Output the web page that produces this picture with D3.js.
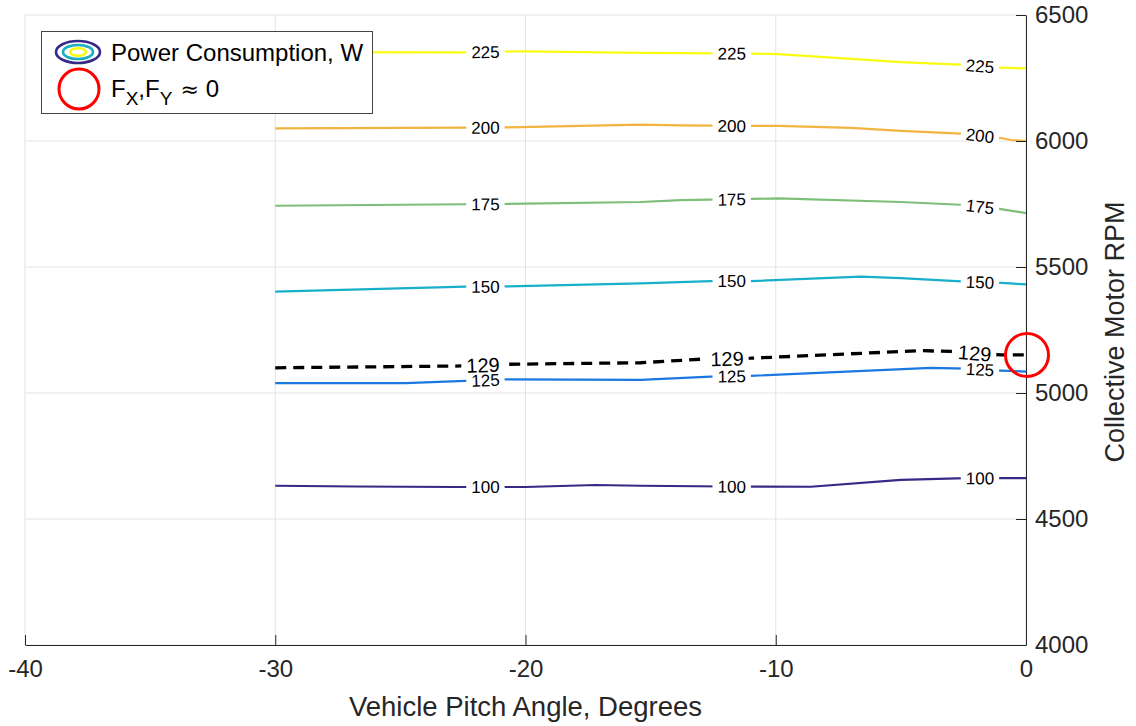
<!DOCTYPE html>
<html>
<head>
<meta charset="utf-8">
<script src="https://cdn.jsdelivr.net/npm/d3@7"></script>
<style>
  html, body { margin: 0; padding: 0; background: #fff; }
  svg { display: block; font-family: "Liberation Sans", Arial, Helvetica, sans-serif; }
</style>
</head>
<body>
<svg id="chart" width="1136" height="726"></svg>
<script>
// Contour levels of power consumption (W)
const levels = [100, 125, 150, 175, 200, 225];

// Contour traces: vehicle pitch angle (deg) vs collective motor RPM
const pitch100 = [-30, -26.8, -22.8, -20, -17.2, -15.4, -12, -8.6, -5, -2.4, -1, 0];
const rpm100   = [4632, 4629, 4627, 4627, 4635, 4632, 4629, 4628, 4655, 4662, 4662, 4662];

const pitch125 = [-30, -24.8, -22.4, -20.8, -15.4, -12.6, -11, -3.8, -2.4, -1, 0];
const rpm125   = [5039, 5039, 5048, 5054, 5052, 5065, 5068, 5100, 5097, 5089, 5085];

const pitch150 = [-30, -22.4, -20.8, -15.4, -12.6, -11, -6.6, -5, -2.4, -1, 0];
const rpm150   = [5402, 5422, 5423, 5435, 5444, 5444, 5462, 5456, 5442, 5437, 5431];

const pitch175 = [-30, -22.4, -20.8, -15.4, -13.8, -11, -9.9, -5, -2.4, -1, 0];
const rpm175   = [5743, 5749, 5750, 5758, 5765, 5770, 5772, 5758, 5746, 5730, 5714];

const pitch200 = [-30, -22.4, -20.8, -15.4, -13.8, -11, -9.9, -7, -5, -2.4, -1, -0.6, 0];
const rpm200   = [6050, 6053, 6054, 6065, 6062, 6060, 6060, 6052, 6040, 6028, 6012, 6004, 6000];

const pitch225 = [-30, -22.4, -20.8, -20, -15.4, -13.8, -11, -9.9, -5, -2.4, -1, 0];
const rpm225   = [6353, 6352, 6355, 6356, 6350, 6349, 6347, 6345, 6313, 6302, 6291, 6288];

// Contour where the measured power is 129 W
const level129 = 129;
const pitch129 = [-30, -22.8, -20.8, -15.4, -13, -11, -4.2, -3, -1, 0];
const rpm129   = [5100, 5107, 5114, 5120, 5134, 5138, 5168, 5165, 5151, 5151];

// Point where horizontal forces vanish
const zeroForcePitch = 0;
const zeroForceRpm = 5151;

// Inline label positions along each contour (pitch, deg)
const labelPitch = [-21.6, -11.76, -1.84];
const labelPitch129 = [-21.7, -11.95, -2.05];

// Axis ticks
const xTicks = [-40, -30, -20, -10, 0];
const yTicks = [4000, 4500, 5000, 5500, 6000, 6500];

const levelColors = {
  100: "#352a87", 125: "#1a78df", 150: "#17afc9",
  175: "#7dbf78", 200: "#f2b440", 225: "#f9fb0e"
};

const contours = [
  { level: 100, pitch: pitch100, rpm: rpm100 },
  { level: 125, pitch: pitch125, rpm: rpm125 },
  { level: 150, pitch: pitch150, rpm: rpm150 },
  { level: 175, pitch: pitch175, rpm: rpm175 },
  { level: 200, pitch: pitch200, rpm: rpm200 },
  { level: 225, pitch: pitch225, rpm: rpm225 }
];

const svg = d3.select("#chart");
const plotLeft = 25, plotRight = 1026, plotTop = 15, plotBottom = 645;

const x = d3.scaleLinear().domain([-40, 0]).range([plotLeft, plotRight]);
const y = d3.scaleLinear().domain([4000, 6500]).range([plotBottom, plotTop]);

// Grid
const grid = svg.append("g");
grid.selectAll("line.gx").data(xTicks).join("line")
  .attr("x1", d => x(d)).attr("x2", d => x(d))
  .attr("y1", plotTop).attr("y2", plotBottom)
  .attr("stroke", "#e3e3e3").attr("stroke-width", 1);
grid.selectAll("line.gy").data(yTicks).join("line")
  .attr("x1", plotLeft).attr("x2", plotRight)
  .attr("y1", d => y(d)).attr("y2", d => y(d))
  .attr("stroke", "#e3e3e3").attr("stroke-width", 1);

const line = d3.line().x(d => x(d[0])).y(d => y(d[1]));

function pts(pitch, rpm) { return pitch.map((p, i) => [p, rpm[i]]); }

function interp(pitch, rpm, p) {
  const i = Math.max(1, Math.min(pitch.length - 1, d3.bisectLeft(pitch, p)));
  const t = (p - pitch[i - 1]) / (pitch[i] - pitch[i - 1]);
  return rpm[i - 1] + t * (rpm[i] - rpm[i - 1]);
}

// Contour lines
const linesG = svg.append("g");
contours.forEach(c => {
  linesG.append("path")
    .attr("d", line(pts(c.pitch, c.rpm)))
    .attr("fill", "none")
    .attr("stroke", levelColors[c.level])
    .attr("stroke-width", 2.2)
    .attr("stroke-linejoin", "round");
});
linesG.append("path")
  .attr("d", line(pts(pitch129, rpm129)))
  .attr("fill", "none")
  .attr("stroke", "#000")
  .attr("stroke-width", 3.3)
  .attr("stroke-dasharray", "11,7");

// Inline labels
const labelItems = [];
contours.forEach(c => {
  labelPitch.forEach(p => labelItems.push({ pitch: p, c, text: String(c.level), size: 17 }));
});
labelPitch129.forEach(p => labelItems.push({
  pitch: p, c: { pitch: pitch129, rpm: rpm129 }, text: String(level129), size: 20
}));

const bgG = svg.append("g");
const txtG = svg.append("g");
labelItems.forEach(L => {
  const px = x(L.pitch);
  const py = y(interp(L.c.pitch, L.c.rpm, L.pitch));
  const x1 = x(L.pitch - 0.6), x2 = x(L.pitch + 0.6);
  const y1 = y(interp(L.c.pitch, L.c.rpm, L.pitch - 0.6));
  const y2 = y(interp(L.c.pitch, L.c.rpm, L.pitch + 0.6));
  const ang = Math.atan2(y2 - y1, x2 - x1) * 180 / Math.PI;
  const g = txtG.append("g").attr("transform", `translate(${px},${py}) rotate(${ang})`);
  const t = g.append("text")
    .attr("text-anchor", "middle")
    .attr("dy", "0.36em")
    .attr("font-size", L.size)
    .attr("fill", "#000")
    .text(L.text);
  const w = t.node().getComputedTextLength();
  bgG.append("rect")
    .attr("transform", `translate(${px},${py}) rotate(${ang})`)
    .attr("x", -w / 2 - 5).attr("width", w + 10)
    .attr("y", -L.size * 0.38).attr("height", L.size * 0.76)
    .attr("fill", "#fff");
});

// Axes (x at bottom, y on the right, ticks inward)
const axisColor = "#262626";
const xAxis = svg.append("g").attr("transform", `translate(0,${plotBottom})`)
  .call(d3.axisBottom(x).tickValues(xTicks).tickSizeInner(-10).tickSizeOuter(0).tickPadding(15).tickFormat(d3.format("d")));
xAxis.select(".domain").attr("stroke", axisColor);
xAxis.selectAll(".tick line").attr("stroke", axisColor);
xAxis.selectAll(".tick text").attr("font-size", 24).attr("fill", axisColor)
  .attr("font-family", "'Liberation Sans', Arial, sans-serif")
  .text(d => d < 0 ? "-" + Math.abs(d) : d);

const yAxis = svg.append("g").attr("transform", `translate(${plotRight},0)`)
  .call(d3.axisRight(y).tickValues(yTicks).tickSizeInner(-10).tickSizeOuter(0).tickPadding(9).tickFormat(d3.format("d")));
yAxis.select(".domain").attr("stroke", axisColor);
yAxis.selectAll(".tick line").attr("stroke", axisColor);
yAxis.selectAll(".tick text").attr("font-size", 24).attr("fill", axisColor)
  .attr("font-family", "'Liberation Sans', Arial, sans-serif");

// Axis titles
svg.append("text")
  .attr("x", x(-20)).attr("y", 716)
  .attr("text-anchor", "middle")
  .attr("font-size", 27.5).attr("fill", axisColor)
  .text("Vehicle Pitch Angle, Degrees");
svg.append("text")
  .attr("transform", `translate(1124,${y(5250) + 2}) rotate(-90)`)
  .attr("text-anchor", "middle")
  .attr("font-size", 27).attr("fill", axisColor)
  .text("Collective Motor RPM");

// Zero-force marker
svg.append("circle")
  .attr("cx", x(zeroForcePitch) + 1).attr("cy", y(zeroForceRpm))
  .attr("r", 21.5)
  .attr("fill", "none").attr("stroke", "#ff0000").attr("stroke-width", 3);

// Legend
const lg = svg.append("g");
lg.append("rect").attr("x", 41.5).attr("y", 31.5).attr("width", 331).attr("height", 82)
  .attr("fill", "#fff").attr("stroke", "#444").attr("stroke-width", 1);
[[22, 11, levelColors[100]], [15, 7, "#17afbf"], [8, 3.8, levelColors[225]]].forEach(([rx, ry, col]) => {
  lg.append("ellipse").attr("cx", 78).attr("cy", 52).attr("rx", rx).attr("ry", ry)
    .attr("fill", "none").attr("stroke", col).attr("stroke-width", 2.6);
});
lg.append("text").attr("x", 111).attr("y", 61).attr("font-size", 24).attr("fill", "#000")
  .text("Power Consumption, W");
lg.append("circle").attr("cx", 79).attr("cy", 89).attr("r", 20)
  .attr("fill", "none").attr("stroke", "#ff0000").attr("stroke-width", 3);
const ft = lg.append("text").attr("x", 111).attr("y", 97).attr("font-size", 24).attr("fill", "#000");
ft.append("tspan").text("F");
ft.append("tspan").attr("dy", 8).attr("font-size", 19).text("X");
ft.append("tspan").attr("dy", -8).text(",F");
ft.append("tspan").attr("dy", 8).attr("font-size", 19).text("Y");
ft.append("tspan").attr("dy", -8).attr("dx", 8).attr("font-family", "'DejaVu Sans', sans-serif")
  .attr("font-size", 22).text("\u2248");
ft.append("tspan").attr("dx", 7).text("0");
</script>
</body>
</html>
